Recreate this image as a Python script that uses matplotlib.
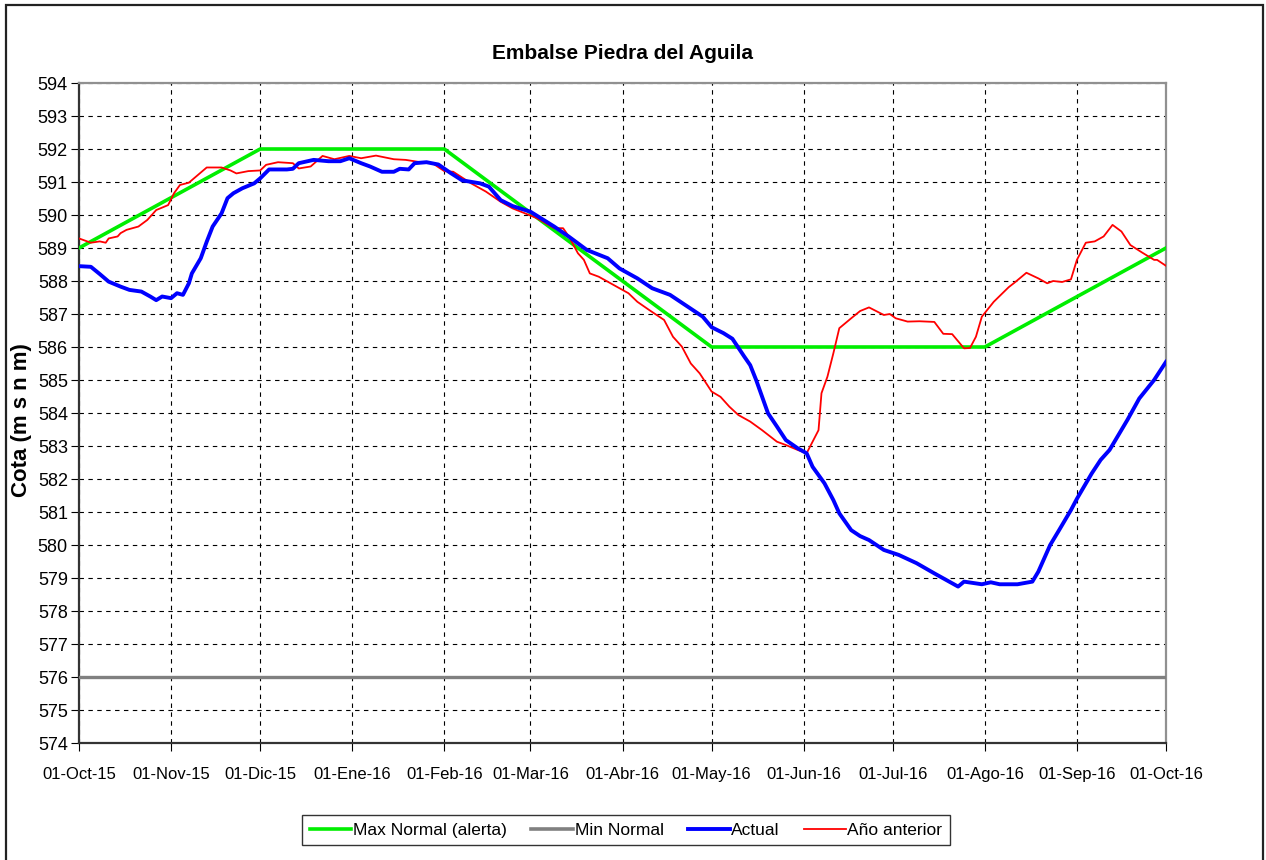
import numpy as np
import matplotlib
matplotlib.use("Agg")
import matplotlib.pyplot as plt
from matplotlib.lines import Line2D

plt.rcParams['font.family'] = ['Liberation Sans Narrow', 'Liberation Sans', 'DejaVu Sans']

# month ticks (days since 01-Oct-15)
mes_dias = [0, 31, 61, 92, 123, 152, 183, 213, 244, 274, 305, 336, 366]
mes_labels = ['01-Oct-15', '01-Nov-15', '01-Dic-15', '01-Ene-16', '01-Feb-16', '01-Mar-16',
              '01-Abr-16', '01-May-16', '01-Jun-16', '01-Jul-16', '01-Ago-16', '01-Sep-16',
              '01-Oct-16']

# Max Normal (alerta)
max_dias = [0, 61, 123, 213, 305, 366]
max_cota = [589.0, 592.0, 592.0, 586.0, 586.0, 589.0]

# Min Normal
min_dias = [0, 366]
min_cota = [576.0, 576.0]

# Actual
act_dias = [0, 4, 7, 10, 14, 17, 21, 24, 26, 28, 31, 33, 35, 37, 38, 41, 43, 45, 48, 50,
            52, 55, 59, 61, 64, 70, 72, 74, 79, 84, 88, 91, 95, 98, 102, 106, 108, 111, 113, 117,
            121, 125, 129, 135, 138, 142, 146, 152, 160, 165, 171, 178, 182, 188, 193, 199, 205, 210, 213, 217,
            220, 224, 226, 228, 232, 235, 238, 242, 245, 247, 251, 254, 256, 260, 263, 266, 271, 276, 282, 288,
            293, 296, 298, 304, 307, 310, 316, 321, 323, 327, 330, 334, 336, 341, 344, 347, 353, 357, 362, 366]
act_cota = [588.45, 588.43, 588.21, 587.98, 587.83, 587.73, 587.68, 587.53, 587.42, 587.53,
            587.48, 587.63, 587.58, 587.93, 588.23, 588.69, 589.19, 589.65, 590.05, 590.51,
            590.66, 590.81, 590.96, 591.11, 591.38, 591.38, 591.40, 591.57, 591.67, 591.63,
            591.63, 591.72, 591.57, 591.47, 591.31, 591.31, 591.40, 591.38, 591.57, 591.60,
            591.53, 591.28, 591.05, 590.96, 590.86, 590.45, 590.27, 590.10, 589.65, 589.34,
            588.94, 588.69, 588.38, 588.08, 587.78, 587.58, 587.22, 586.92, 586.60, 586.42,
            586.25, 585.71, 585.45, 585.00, 583.99, 583.59, 583.18, 582.93, 582.78, 582.37,
            581.87, 581.36, 580.96, 580.45, 580.27, 580.15, 579.85, 579.70, 579.45, 579.14,
            578.89, 578.74, 578.89, 578.81, 578.87, 578.81, 578.81, 578.89, 579.19, 580.00,
            580.45, 581.06, 581.40, 582.17, 582.58, 582.88, 583.79, 584.44, 585.00, 585.55]

# Año anterior
ant_dias = [0, 4, 7, 9, 10, 13, 14, 16, 20, 23, 26, 30, 32, 34, 37, 40, 43, 48, 51, 53,
            57, 61, 63, 67, 72, 74, 78, 82, 86, 91, 95, 100, 106, 110, 115, 119, 123, 126, 132, 137,
            142, 146, 151, 154, 160, 163, 165, 168, 170, 172, 175, 180, 185, 188, 192, 197, 200, 203, 206, 209,
            213, 216, 219, 222, 226, 230, 235, 238, 242, 245, 249, 250, 252, 254, 256, 260, 263, 266, 271, 273,
            275, 279, 283, 288, 291, 294, 298, 300, 302, 304, 308, 313, 315, 319, 323, 326, 328, 331, 334, 336,
            339, 342, 345, 348, 351, 354, 358, 362, 363, 366]
ant_cota = [589.29, 589.16, 589.20, 589.16, 589.29, 589.35, 589.45, 589.55, 589.65, 589.85,
            590.15, 590.30, 590.66, 590.91, 590.98, 591.21, 591.44, 591.44, 591.35, 591.26,
            591.33, 591.35, 591.52, 591.60, 591.57, 591.41, 591.47, 591.79, 591.69, 591.79,
            591.72, 591.80, 591.69, 591.67, 591.60, 591.57, 591.33, 591.31, 590.96, 590.71,
            590.40, 590.20, 590.02, 589.91, 589.60, 589.60, 589.34, 588.84, 588.64, 588.23,
            588.13, 587.88, 587.63, 587.37, 587.12, 586.82, 586.31, 586.01, 585.50, 585.20,
            584.65, 584.49, 584.19, 583.94, 583.74, 583.48, 583.13, 583.03, 582.88, 582.78,
            583.48, 584.60, 585.10, 585.81, 586.57, 586.87, 587.09, 587.20, 586.97, 587.00,
            586.87, 586.77, 586.78, 586.76, 586.40, 586.39, 585.96, 585.97, 586.31, 586.92,
            587.37, 587.81, 587.95, 588.25, 588.08, 587.93, 588.00, 587.97, 588.05, 588.64,
            589.16, 589.20, 589.35, 589.70, 589.50, 589.09, 588.86, 588.64, 588.64, 588.46]

fig = plt.figure(figsize=(12.66, 8.60), dpi=100)
ax = fig.add_axes([79 / 1266, 1 - 743 / 860, (1166 - 79) / 1266, (743 - 83) / 860])

ax.plot(min_dias, min_cota, color='#808080', lw=2.4, label='Min Normal', zorder=3)
ax.plot(max_dias, max_cota, color='#00ee00', lw=2.6, label='Max Normal (alerta)', zorder=4)
ax.plot(ant_dias, ant_cota, color='#ff0000', lw=1.3, label='Año anterior', zorder=5)
ax.plot(act_dias, act_cota, color='#0000ff', lw=2.8, label='Actual', zorder=6)

ax.set_xlim(0, 366)
ax.set_ylim(574, 594)
ax.set_xticks(mes_dias)
ax.set_xticklabels(mes_labels, fontsize=12)
ax.set_yticks(np.arange(574, 595, 1))
ax.tick_params(axis='y', labelsize=13, direction='out', length=6, pad=2)
ax.tick_params(axis='x', direction='out', length=6, pad=11)
ax.grid(True, color='black', linestyle=(0, (4, 4)), lw=0.8)

for s in ['left', 'bottom']:
    ax.spines[s].set_color('#333333')
    ax.spines[s].set_linewidth(1.6)
for s in ['top', 'right']:
    ax.spines[s].set_color('#909090')
    ax.spines[s].set_linewidth(1.6)

ax.set_title('Embalse Piedra del Aguila', fontsize=15, fontweight='bold', pad=17)
fig.text(22 / 1266, 1 - 420 / 860, 'Cota (m s n m)', rotation=90, fontsize=16,
         fontweight='bold', ha='center', va='center')

handles = [Line2D([], [], color='#00ee00', lw=2.6),
           Line2D([], [], color='#808080', lw=2.6),
           Line2D([], [], color='#0000ff', lw=2.8),
           Line2D([], [], color='#ff0000', lw=1.3)]
labels = ['Max Normal (alerta)', 'Min Normal', 'Actual', 'Año anterior']
fig.legend(handles, labels, loc='center', bbox_to_anchor=(626 / 1266, 1 - 830 / 860),
           ncol=4, fontsize=12.5, frameon=True, fancybox=False, edgecolor='black',
           handlelength=2.4, handletextpad=0.1, columnspacing=1.4, borderpad=0.45)

# outer chart frame
fig.add_artist(plt.Rectangle((6 / 1266, -0.05), (1263 - 6) / 1266, 1.05 - 5 / 860,
                             transform=fig.transFigure, fill=False, edgecolor='#222222', lw=1.6))

fig.savefig('out.png', dpi=100)
